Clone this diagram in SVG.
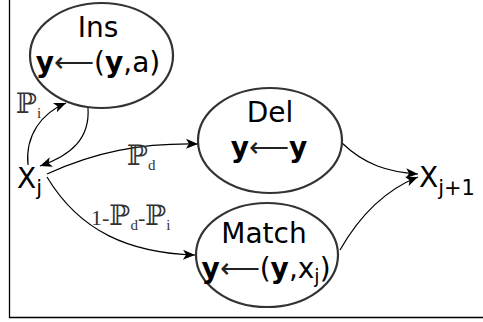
<svg xmlns="http://www.w3.org/2000/svg" width="483" height="322" viewBox="0 0 483 322">
<defs>
<style>
.node ellipse{fill:#fff;stroke:#333;stroke-width:2.2}
.t{font-family:"DejaVu Sans","Liberation Sans",sans-serif;font-size:28px;fill:#000;text-anchor:middle}
.b{font-weight:bold}
.ar{font-weight:200;fill:#222}
.sub{font-size:19px}
.sub2{font-size:21px}
.lbl{font-family:"Liberation Serif","DejaVu Serif",serif;font-size:22px;fill:#333}
.bb{font-family:"DejaVu Serif","DejaVu Sans",serif;font-size:28px}
.lsub{font-size:15px}
#connectors path{fill:none;stroke:#000;stroke-width:1.2;marker-end:url(#ah)}
</style>
<marker id="ah" markerUnits="userSpaceOnUse" viewBox="-13 -6 14 12" refX="0" refY="0" markerWidth="14" markerHeight="12" orient="auto">
<path d="M0,0 L-12,-5 L-9,0 L-12,5 Z" fill="#000"/>
</marker>
</defs>
<rect width="483" height="322" fill="#fff"/>
<path d="M9.5,0 V317.5 H483" fill="none" stroke="#000" stroke-width="1.3"/>
<g id="connectors">
<path d="M28,165 C25,135 42,113 66,103"/>
<path d="M88,108 C90,138 72,155 40,166"/>
<path d="M47,174 C95,152 140,143 198,144"/>
<path d="M47,177 C80,232 130,253 195,255"/>
<path d="M342,143 C365,165 388,172 418,174"/>
<path d="M340,250 C360,215 385,190 418,177"/>
</g>
<g id="labels">
<text class="lbl" x="16" y="113"><tspan class="bb">ℙ</tspan><tspan class="lsub" dy="5">i</tspan></text>
<text class="lbl" x="127" y="165"><tspan class="bb">ℙ</tspan><tspan class="lsub" dy="5">d</tspan></text>
<text class="lbl" x="91" y="225">1-<tspan class="bb">ℙ</tspan><tspan class="lsub" dy="5">d</tspan><tspan dy="-5">-</tspan><tspan class="bb">ℙ</tspan><tspan class="lsub" dy="5">i</tspan></text>
</g>
<g id="ins" class="node">
<ellipse cx="101.5" cy="55.5" rx="71.5" ry="52.5"/>
<text class="t" x="98" y="37">Ins</text>
<text class="t" x="98" y="72"><tspan class="b">y</tspan><tspan class="ar">⟵</tspan>(<tspan class="b">y</tspan>,a)</text>
</g>
<g id="del" class="node">
<ellipse cx="270" cy="140.5" rx="72" ry="52.5"/>
<text class="t" x="270" y="122">Del</text>
<text class="t" x="269" y="157"><tspan class="b">y</tspan><tspan class="ar">⟵</tspan><tspan class="b">y</tspan></text>
</g>
<g id="match" class="node">
<ellipse cx="267" cy="255" rx="71" ry="52"/>
<text class="t" x="264" y="243">Match</text>
<text class="t" x="266" y="278"><tspan class="b">y</tspan><tspan class="ar">⟵</tspan>(<tspan class="b">y</tspan>,x<tspan class="sub" dy="5">j</tspan><tspan dy="-5">)</tspan></text>
</g>
<g id="xj">
<text class="t" x="17" y="187.5" style="text-anchor:start">X<tspan class="sub2" dy="7">j</tspan></text>
</g>
<g id="xj1">
<text class="t" x="419" y="187" style="text-anchor:start">X<tspan class="sub2" dy="8">j+1</tspan></text>
</g>
</svg>
